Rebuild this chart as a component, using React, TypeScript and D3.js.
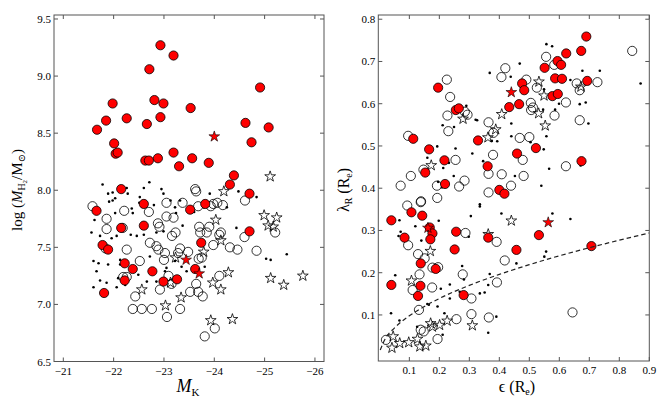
import * as d3 from "d3";

type Pt = [number, number];

// ---- left panel: M_K vs log(M_H2/Msun) ----
const leftRed: Pt[] = [
  [-21.67, 8.53], [-21.85, 8.61], [-21.98, 8.76], [-22.01, 8.41], [-22.04, 8.32], [-22.08, 8.33],
  [-22.26, 8.63], [-22.15, 8.01], [-22.66, 8.58], [-22.63, 8.26], [-22.7, 8.26], [-22.71, 9.06],
  [-22.81, 8.79], [-22.93, 9.27], [-22.99, 8.76], [-22.93, 8.64], [-22.88, 8.28], [-23.19, 9.18],
  [-23.19, 8.33], [-23.3, 8.21], [-23.53, 8.72], [-23.56, 8.28], [-23.89, 8.24], [-24.39, 8.13],
  [-24.31, 8.05], [-24.7, 7.97], [-24.62, 8.59], [-24.74, 8.42], [-24.91, 8.9], [-25.08, 8.55],
  [-21.66, 7.82], [-21.78, 7.52], [-21.89, 7.48], [-21.81, 7.1], [-22.15, 7.67], [-22.22, 7.36],
  [-22.22, 7.21], [-22.38, 7.31], [-22.6, 7.88], [-22.6, 7.69], [-22.77, 7.29], [-22.99, 7.2],
  [-23.26, 7.22], [-23.52, 7.83], [-23.74, 7.54], [-23.62, 7.31], [-23.82, 7.88], [-24.7, 7.64],
];
const leftRedStar: Pt[] = [[-24.0, 8.47], [-23.44, 7.39], [-23.7, 7.27]];
const leftOpenStar: Pt[] = [
  [-25.11, 8.12], [-24.19, 7.99], [-24.99, 7.78], [-25.24, 7.76], [-25.07, 7.69], [-25.17, 7.68],
  [-24.03, 7.74], [-24.13, 7.56], [-23.79, 7.46], [-23.23, 7.41], [-23.13, 7.19], [-22.56, 7.13],
  [-23.03, 6.99], [-23.34, 7.06], [-24.28, 7.28], [-23.97, 7.19], [-24.13, 7.13], [-23.93, 6.86],
  [-24.36, 6.87], [-25.12, 7.23], [-25.38, 7.17], [-25.76, 7.25],
];
const leftOpen: Pt[] = [
  [-23.62, 8.01], [-23.64, 7.99], [-21.58, 7.86], [-22.21, 7.82], [-21.86, 7.75], [-21.86, 7.66],
  [-22.18, 7.67], [-21.84, 7.49], [-22.7, 7.81], [-23.05, 7.89], [-23.05, 7.77], [-23.19, 7.76],
  [-23.37, 7.89], [-23.68, 7.86], [-23.93, 7.86], [-23.98, 7.88], [-24.06, 7.89], [-24.17, 7.87],
  [-24.61, 7.91], [-25.21, 7.63], [-22.88, 7.71], [-22.91, 7.68], [-23.23, 7.63], [-23.16, 7.6],
  [-23.7, 7.68], [-23.72, 7.63], [-23.9, 7.68], [-23.85, 7.63], [-24.1, 7.61], [-24.13, 7.63],
  [-22.72, 7.54], [-22.85, 7.51], [-22.89, 7.48], [-23.02, 7.45], [-23.0, 7.39], [-23.32, 7.49],
  [-23.28, 7.45], [-23.48, 7.46], [-22.26, 7.48], [-23.98, 7.52], [-24.31, 7.5], [-24.46, 7.48],
  [-24.84, 7.47], [-24.6, 7.59], [-23.69, 7.4], [-23.75, 7.41], [-22.52, 7.38], [-22.19, 7.24],
  [-22.26, 7.24], [-22.92, 7.13], [-23.09, 7.25], [-23.15, 7.18], [-22.43, 7.07], [-22.38, 6.96],
  [-22.56, 6.96], [-22.76, 6.96], [-23.06, 6.89], [-23.32, 6.96], [-23.52, 7.11], [-23.64, 7.18],
  [-23.68, 7.11], [-23.77, 7.07], [-24.1, 7.25], [-23.81, 6.72], [-24.01, 6.79],
];
const leftDot: Pt[] = [
  [-21.78, 8.05], [-21.89, 7.97], [-21.98, 7.98], [-22.26, 8.02], [-22.28, 7.97], [-22.6, 8.02],
  [-22.71, 8.07], [-22.95, 8.01], [-22.99, 7.97], [-23.91, 7.97], [-24.48, 7.99], [-24.84, 7.94],
  [-22.03, 7.93], [-22.52, 7.94], [-21.91, 7.9], [-21.98, 7.91], [-22.03, 7.8], [-22.36, 7.84],
  [-22.38, 7.8], [-22.51, 7.89], [-22.8, 7.87], [-23.13, 7.91], [-23.22, 7.85], [-23.24, 7.8],
  [-23.32, 7.91], [-23.6, 7.81], [-23.79, 7.85], [-21.62, 7.74], [-21.56, 7.63], [-21.73, 7.6],
  [-21.96, 7.58], [-22.06, 7.6], [-22.34, 7.61], [-22.46, 7.6], [-22.6, 7.61], [-22.85, 7.63],
  [-22.99, 7.64], [-23.37, 7.69], [-24.44, 7.67], [-24.25, 7.85], [-25.44, 7.44], [-25.03, 7.4],
  [-25.12, 7.39], [-21.6, 7.38], [-21.7, 7.36], [-21.89, 7.35], [-22.13, 7.39], [-22.13, 7.35],
  [-21.66, 7.29], [-21.73, 7.21], [-21.86, 7.19], [-21.6, 7.15], [-22.09, 7.23], [-22.06, 7.15],
  [-22.23, 7.17], [-23.05, 7.32], [-23.02, 7.29], [-22.85, 7.2], [-23.22, 7.38], [-23.35, 7.33],
  [-22.66, 7.2], [-23.45, 7.29], [-23.81, 7.33], [-22.72, 7.42], [-22.49, 7.26],
];

// ---- right panel: ellipticity vs lambda_R ----
const rightRed: Pt[] = [
  [0.113, 0.517], [0.166, 0.492], [0.153, 0.437], [0.217, 0.466], [0.219, 0.41], [0.196, 0.638],
  [0.255, 0.585], [0.265, 0.589], [0.329, 0.513], [0.361, 0.452], [0.4, 0.396], [0.417, 0.387],
  [0.433, 0.592], [0.466, 0.599], [0.476, 0.648], [0.483, 0.632], [0.459, 0.482], [0.522, 0.495],
  [0.551, 0.685], [0.577, 0.618], [0.595, 0.623], [0.594, 0.701], [0.606, 0.692], [0.586, 0.66],
  [0.609, 0.659], [0.623, 0.719], [0.673, 0.725], [0.69, 0.759], [0.693, 0.654], [0.674, 0.464],
  [0.04, 0.324], [0.107, 0.343], [0.143, 0.335], [0.084, 0.283], [0.168, 0.307], [0.177, 0.293],
  [0.17, 0.279], [0.256, 0.297], [0.251, 0.255], [0.138, 0.222], [0.188, 0.209], [0.04, 0.171],
  [0.137, 0.169], [0.129, 0.145], [0.281, 0.147], [0.363, 0.283], [0.457, 0.254], [0.532, 0.289],
  [0.707, 0.263],
];
const rightRedStar: Pt[] = [[0.44, 0.627], [0.162, 0.306], [0.563, 0.319]];
const rightOpenStar: Pt[] = [
  [0.173, 0.454], [0.279, 0.564], [0.362, 0.52], [0.388, 0.539], [0.408, 0.575], [0.532, 0.652],
  [0.549, 0.619], [0.531, 0.577], [0.553, 0.548], [0.672, 0.64], [0.107, 0.181], [0.17, 0.251],
  [0.363, 0.291], [0.44, 0.323], [0.226, 0.086], [0.201, 0.076], [0.177, 0.072], [0.171, 0.08],
  [0.31, 0.075], [0.046, 0.049], [0.042, 0.022], [0.068, 0.033], [0.098, 0.035], [0.127, 0.043],
  [0.135, 0.025], [0.155, 0.027],
];
const rightOpen: Pt[] = [
  [0.096, 0.524], [0.105, 0.429], [0.071, 0.406], [0.139, 0.369], [0.193, 0.377], [0.192, 0.406],
  [0.225, 0.657], [0.236, 0.616], [0.227, 0.572], [0.23, 0.535], [0.285, 0.581], [0.294, 0.574],
  [0.254, 0.467], [0.284, 0.418], [0.266, 0.404], [0.364, 0.556], [0.38, 0.531], [0.379, 0.479],
  [0.364, 0.434], [0.364, 0.39], [0.408, 0.433], [0.407, 0.663], [0.42, 0.684], [0.439, 0.406],
  [0.468, 0.519], [0.478, 0.467], [0.481, 0.429], [0.49, 0.657], [0.5, 0.521], [0.505, 0.602],
  [0.512, 0.591], [0.506, 0.585], [0.525, 0.638], [0.556, 0.711], [0.583, 0.692], [0.584, 0.572],
  [0.622, 0.603], [0.622, 0.452], [0.658, 0.648], [0.668, 0.632], [0.668, 0.561], [0.727, 0.651],
  [0.843, 0.725], [0.147, 0.444], [0.093, 0.359], [0.138, 0.367], [0.096, 0.265], [0.287, 0.294],
  [0.391, 0.273], [0.129, 0.244], [0.151, 0.234], [0.177, 0.212], [0.196, 0.213], [0.418, 0.229],
  [0.134, 0.196], [0.111, 0.159], [0.176, 0.165], [0.278, 0.196], [0.392, 0.177], [0.307, 0.139],
  [0.132, 0.112], [0.307, 0.102], [0.365, 0.094], [0.257, 0.09], [0.138, 0.065], [0.148, 0.061],
  [0.194, 0.043], [0.022, 0.041], [0.644, 0.106],
];
const rightDot: Pt[] = [
  [0.557, 0.741], [0.576, 0.736], [0.468, 0.695], [0.368, 0.673], [0.438, 0.664], [0.677, 0.678],
  [0.735, 0.678], [0.637, 0.656], [0.871, 0.648], [0.549, 0.634], [0.599, 0.6], [0.668, 0.599],
  [0.688, 0.603], [0.546, 0.586], [0.586, 0.586], [0.697, 0.553], [0.557, 0.523], [0.504, 0.509],
  [0.548, 0.492], [0.566, 0.446], [0.452, 0.429], [0.54, 0.406], [0.671, 0.454], [0.29, 0.595],
  [0.211, 0.549], [0.249, 0.545], [0.321, 0.562], [0.326, 0.561], [0.193, 0.499], [0.254, 0.494],
  [0.31, 0.482], [0.346, 0.464], [0.16, 0.472], [0.213, 0.448], [0.232, 0.46], [0.248, 0.429],
  [0.196, 0.415], [0.209, 0.402], [0.375, 0.512], [0.393, 0.511], [0.44, 0.523], [0.44, 0.553],
  [0.039, 0.104], [0.067, 0.087], [0.064, 0.287], [0.071, 0.297], [0.082, 0.277], [0.12, 0.31],
  [0.14, 0.276], [0.198, 0.323], [0.067, 0.324], [0.298, 0.285], [0.305, 0.334], [0.335, 0.362],
  [0.335, 0.357], [0.407, 0.34], [0.276, 0.216], [0.282, 0.184], [0.053, 0.194], [0.205, 0.162],
  [0.235, 0.172], [0.235, 0.139], [0.268, 0.155], [0.368, 0.197], [0.363, 0.171], [0.351, 0.153],
  [0.335, 0.151], [0.16, 0.126], [0.165, 0.124], [0.194, 0.12], [0.217, 0.104], [0.39, 0.096],
  [0.126, 0.072], [0.211, 0.053], [0.363, 0.058], [0.457, 0.222], [0.55, 0.238], [0.556, 0.25],
  [0.577, 0.34], [0.637, 0.327],
];
// dashed fast/slow divide
const curveEps = [0.003, 0.02, 0.05, 0.1, 0.15, 0.2, 0.3, 0.4, 0.5, 0.6, 0.7, 0.8, 0.9];
const curveLam = [0.017, 0.044, 0.069, 0.098, 0.12, 0.139, 0.17, 0.196, 0.219, 0.24, 0.259, 0.277, 0.294];

const leftXTicks = [-21, -22, -23, -24, -25, -26];
const leftYTicks = [6.5, 7.0, 7.5, 8.0, 8.5, 9.0, 9.5];
const rightXTicks = [0.1, 0.2, 0.3, 0.4, 0.5, 0.6, 0.7, 0.8, 0.9];
const rightYTicks = [0.1, 0.2, 0.3, 0.4, 0.5, 0.6, 0.7, 0.8];

const FONT = "'Liberation Serif', 'DejaVu Serif', serif";
const FRAME = "#555";
const RED = "#ff0000";

const star = d3.symbol().type(d3.symbolStar).size(36)();

function Marks({ x, y, dots, open, openStar, red, redStar }: any) {
  return (
    <g>
      {dots.map((d: Pt, i: number) => (
        <circle key={"d" + i} cx={x(d[0])} cy={y(d[1])} r={1.3} fill="#000" />
      ))}
      {open.map((d: Pt, i: number) => (
        <circle key={"o" + i} cx={x(d[0])} cy={y(d[1])} r={4.6} fill="none" stroke="#000" strokeWidth={0.8} />
      ))}
      {openStar.map((d: Pt, i: number) => (
        <path key={"s" + i} d={star!} transform={`translate(${x(d[0])},${y(d[1])})`} fill="none" stroke="#000" strokeWidth={0.8} />
      ))}
      {red.map((d: Pt, i: number) => (
        <circle key={"r" + i} cx={x(d[0])} cy={y(d[1])} r={4.6} fill={RED} stroke="#000" strokeWidth={0.8} />
      ))}
      {redStar.map((d: Pt, i: number) => (
        <path key={"rs" + i} d={star!} transform={`translate(${x(d[0])},${y(d[1])})`} fill={RED} stroke="#000" strokeWidth={0.6} />
      ))}
    </g>
  );
}

function Frame({ x, y, xTicks, yTicks, fx, fy }: any) {
  const [l, r] = x.range();
  const [b, t] = y.range();
  const tl = 4;
  return (
    <g fontFamily={FONT} fontSize={11} fill="#000">
      {xTicks.map((v: number) => (
        <g key={"x" + v}>
          <line x1={x(v)} x2={x(v)} y1={b} y2={b - tl} stroke={FRAME} />
          <line x1={x(v)} x2={x(v)} y1={t} y2={t + tl} stroke={FRAME} />
          <text x={x(v)} y={b + 13} textAnchor="middle">{fx(v)}</text>
        </g>
      ))}
      {yTicks.map((v: number) => (
        <g key={"y" + v}>
          <line x1={l} x2={l + tl} y1={y(v)} y2={y(v)} stroke={FRAME} />
          <line x1={r} x2={r - tl} y1={y(v)} y2={y(v)} stroke={FRAME} />
          <text x={l - 3} y={y(v) + 4} textAnchor="end">{fy(v)}</text>
        </g>
      ))}
      <rect x={l} y={t} width={r - l} height={b - t} fill="none" stroke={FRAME} strokeWidth={1} />
    </g>
  );
}

export default function App() {
  const lx = d3.scaleLinear().domain([-20.815, -26.18]).range([54, 324]);
  const ly = d3.scaleLinear().domain([6.5, 9.535]).range([361.5, 15]);
  const rx = d3.scaleLinear().domain([-0.0035, 0.9]).range([378.3, 649.3]);
  const ry = d3.scaleLinear().domain([-0.009, 0.81]).range([361, 15]);

  const line = d3
    .line<number>()
    .x((_, i) => rx(curveEps[i]))
    .y((d) => ry(d))
    .curve(d3.curveMonotoneX);

  const f1 = d3.format(".1f");
  const fInt = d3.format("d");

  return (
    <svg width={660} height={399} style={{ position: "absolute", left: 0, top: 0, background: "#fff" }}>
      <defs>
        <clipPath id="clipL">
          <rect x={54} y={15} width={270} height={346.5} />
        </clipPath>
        <clipPath id="clipR">
          <rect x={378.3} y={15} width={271} height={346} />
        </clipPath>
      </defs>

      <g clipPath="url(#clipL)">
        <Marks x={lx} y={ly} dots={leftDot} open={leftOpen} openStar={leftOpenStar} red={leftRed} redStar={leftRedStar} />
      </g>
      <Frame x={lx} y={ly} xTicks={leftXTicks} yTicks={leftYTicks} fx={fInt} fy={f1} />

      <g clipPath="url(#clipR)">
        <Marks x={rx} y={ry} dots={rightDot} open={rightOpen} openStar={rightOpenStar} red={rightRed} redStar={rightRedStar} />
        <path d={line(curveLam) || ""} fill="none" stroke="#222" strokeWidth={1.2} strokeDasharray="4.5,3" />
      </g>
      <Frame x={rx} y={ry} xTicks={rightXTicks} yTicks={rightYTicks} fx={f1} fy={f1} />

      {/* axis labels */}
      <text x={188} y={392} textAnchor="middle" fontFamily={FONT} fontSize={18}>
        <tspan fontStyle="italic">M</tspan>
        <tspan fontSize={11} dy={4}>K</tspan>
      </text>
      <text transform="translate(22,190) rotate(-90)" textAnchor="middle" fontFamily={FONT} fontSize={15}>
        <tspan>log (</tspan>
        <tspan fontStyle="italic">M</tspan>
        <tspan fontSize={10} dy={3}>H</tspan>
        <tspan fontSize={7} dy={2}>2</tspan>
        <tspan dy={-5}>/M</tspan>
        <tspan fontSize={10} dy={3}>⊙</tspan>
        <tspan dy={-3}>)</tspan>
      </text>
      <text x={517} y={392} textAnchor="middle" fontFamily={FONT} fontSize={16}>
        <tspan>ϵ (R</tspan>
        <tspan fontSize={10} dy={3}>e</tspan>
        <tspan dy={-3}>)</tspan>
      </text>
      <text transform="translate(349,190) rotate(-90)" textAnchor="middle" fontFamily={FONT} fontSize={16}>
        <tspan>λ</tspan>
        <tspan fontSize={10} dy={3}>R</tspan>
        <tspan dy={-3}> (R</tspan>
        <tspan fontSize={10} dy={3}>e</tspan>
        <tspan dy={-3}>)</tspan>
      </text>
    </svg>
  );
}
